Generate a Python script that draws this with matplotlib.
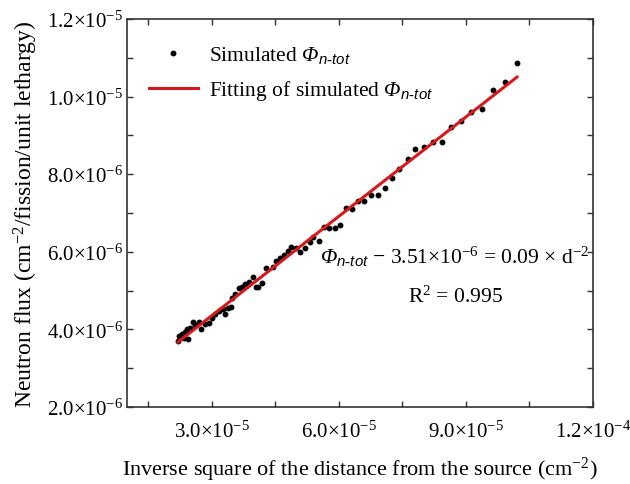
import numpy as np
import matplotlib
matplotlib.use("Agg")
import matplotlib.pyplot as plt
from matplotlib.ticker import MultipleLocator, FixedLocator, FixedFormatter

plt.rcParams["font.family"] = ["Liberation Serif", "DejaVu Serif"]
plt.rcParams["mathtext.fontset"] = "custom"
plt.rcParams["mathtext.rm"] = "Liberation Serif"
plt.rcParams["mathtext.it"] = "Liberation Serif:italic"
plt.rcParams["mathtext.bf"] = "Liberation Serif:italic"   # used for the slanted Phi
plt.rcParams["mathtext.sf"] = "Liberation Sans:italic"
plt.rcParams["mathtext.default"] = "regular"

# simulated flux vs inverse square distance
inv_d2 = [2.205, 2.221, 2.259, 2.299, 2.339, 2.377, 2.417, 2.441, 2.495, 2.552,
          2.613, 2.694, 2.755, 2.850, 2.930, 3.008, 3.086, 3.166, 3.261, 3.308,
          3.386, 3.464, 3.480, 3.558, 3.639, 3.717, 3.794, 3.889, 3.969, 4.047,
          4.094, 4.189, 4.283, 4.442, 4.520, 4.614, 4.702, 4.803, 4.881, 4.992,
          5.094, 5.212, 5.316, 5.386, 5.528, 5.647, 5.779, 5.902, 6.039, 6.173,
          6.315, 6.450, 6.603, 6.757, 6.922, 7.087, 7.255, 7.425, 7.621, 7.808,
          8.004, 8.217, 8.429, 8.647, 8.883, 9.119, 9.379, 9.639, 9.913, 10.205]
flux = [3.70, 3.84, 3.79, 3.87, 3.77, 3.93, 4.01, 3.75, 4.04, 4.18,
        4.11, 4.18, 4.01, 4.13, 4.16, 4.30, 4.39, 4.47, 4.53, 4.39,
        4.54, 4.58, 4.82, 4.90, 5.06, 5.10, 5.16, 5.23, 5.36, 5.08,
        5.10, 5.19, 5.59, 5.62, 5.76, 5.85, 5.92, 6.03, 6.13, 6.09,
        5.99, 6.11, 6.24, 6.39, 6.28, 6.63, 6.62, 6.61, 6.69, 7.14,
        7.10, 7.30, 7.30, 7.46, 7.47, 7.64, 7.89, 8.13, 8.39, 8.65,
        8.71, 8.84, 8.84, 9.22, 9.37, 9.60, 9.68, 10.18, 10.37, 10.87]

x = np.array(inv_d2) * 1e-5
y = np.array(flux) * 1e-6

xticks = [3.0e-5, 6.0e-5, 9.0e-5, 1.2e-4]
xticklabels = [r"$3.0{\times}10^{-5}$", r"$6.0{\times}10^{-5}$",
               r"$9.0{\times}10^{-5}$", r"$1.2{\times}10^{-4}$"]
yticks = [2.0e-6, 4.0e-6, 6.0e-6, 8.0e-6, 1.0e-5, 1.2e-5]
yticklabels = [r"$2.0{\times}10^{-6}$", r"$4.0{\times}10^{-6}$", r"$6.0{\times}10^{-6}$",
               r"$8.0{\times}10^{-6}$", r"$1.0{\times}10^{-5}$", r"$1.2{\times}10^{-5}$"]

phi = r"$\mathbf{Φ}_{\mathsf{n\text{-}tot}}$"

# linear fit
slope, icpt = np.polyfit(x, y, 1)
xf = np.array([x.min(), x.max()])
yf = slope * xf + icpt

fig = plt.figure(figsize=(6.3, 4.85), dpi=100)
ax = fig.add_axes([0.2016, 0.1588, 0.7397, 0.8])

ax.plot(x, y, "o", color="black", markersize=3.2, label="Simulated " + phi)
ax.plot(xf, yf, color="#d7191c", lw=2.2, label="Fitting of simulated " + phi)

ax.set_xlim(1.0e-5, 1.2e-4)
ax.set_ylim(2.0e-6, 1.2e-5)
ax.xaxis.set_major_locator(FixedLocator(xticks))
ax.xaxis.set_major_formatter(FixedFormatter(xticklabels))
ax.yaxis.set_major_locator(FixedLocator(yticks))
ax.yaxis.set_major_formatter(FixedFormatter(yticklabels))
ax.xaxis.set_minor_locator(MultipleLocator(1.5e-5))
ax.yaxis.set_minor_locator(MultipleLocator(1.0e-6))
ax.tick_params(which="both", direction="in", top=True, right=True, labelsize=15,
               color="#333333", width=1)
ax.tick_params(which="major", length=4)
ax.tick_params(which="minor", length=4)
ax.tick_params(axis="x", which="major", pad=10)
ax.tick_params(axis="y", which="major", pad=3)
for s in ax.spines.values():
    s.set_color("#333333")
    s.set_linewidth(1.2)

ax.set_xlabel(r"Inverse square of the distance from the source (cm$^{-2}$)", fontsize=16, labelpad=9)
ax.set_ylabel(r"Neutron flux (cm$^{-2}$/fission/unit lethargy)", fontsize=17, labelpad=5)

ax.legend(loc="upper left", bbox_to_anchor=(0.005, 0.985), frameon=False, fontsize=15.5,
          handlelength=2.3, handletextpad=0.5, labelspacing=0.6, numpoints=1)

ax.text(0.415, 0.39, phi + r" $-$ $3.51{\times}10^{-6}$ = 0.09 $\times$ d$^{-2}$",
        transform=ax.transAxes, fontsize=15.5, ha="left", va="center")
ax.text(0.705, 0.285, r"R$^{2}$ = 0.995", transform=ax.transAxes, fontsize=15.5,
        ha="center", va="center")

fig.savefig("out.png", dpi=100)
